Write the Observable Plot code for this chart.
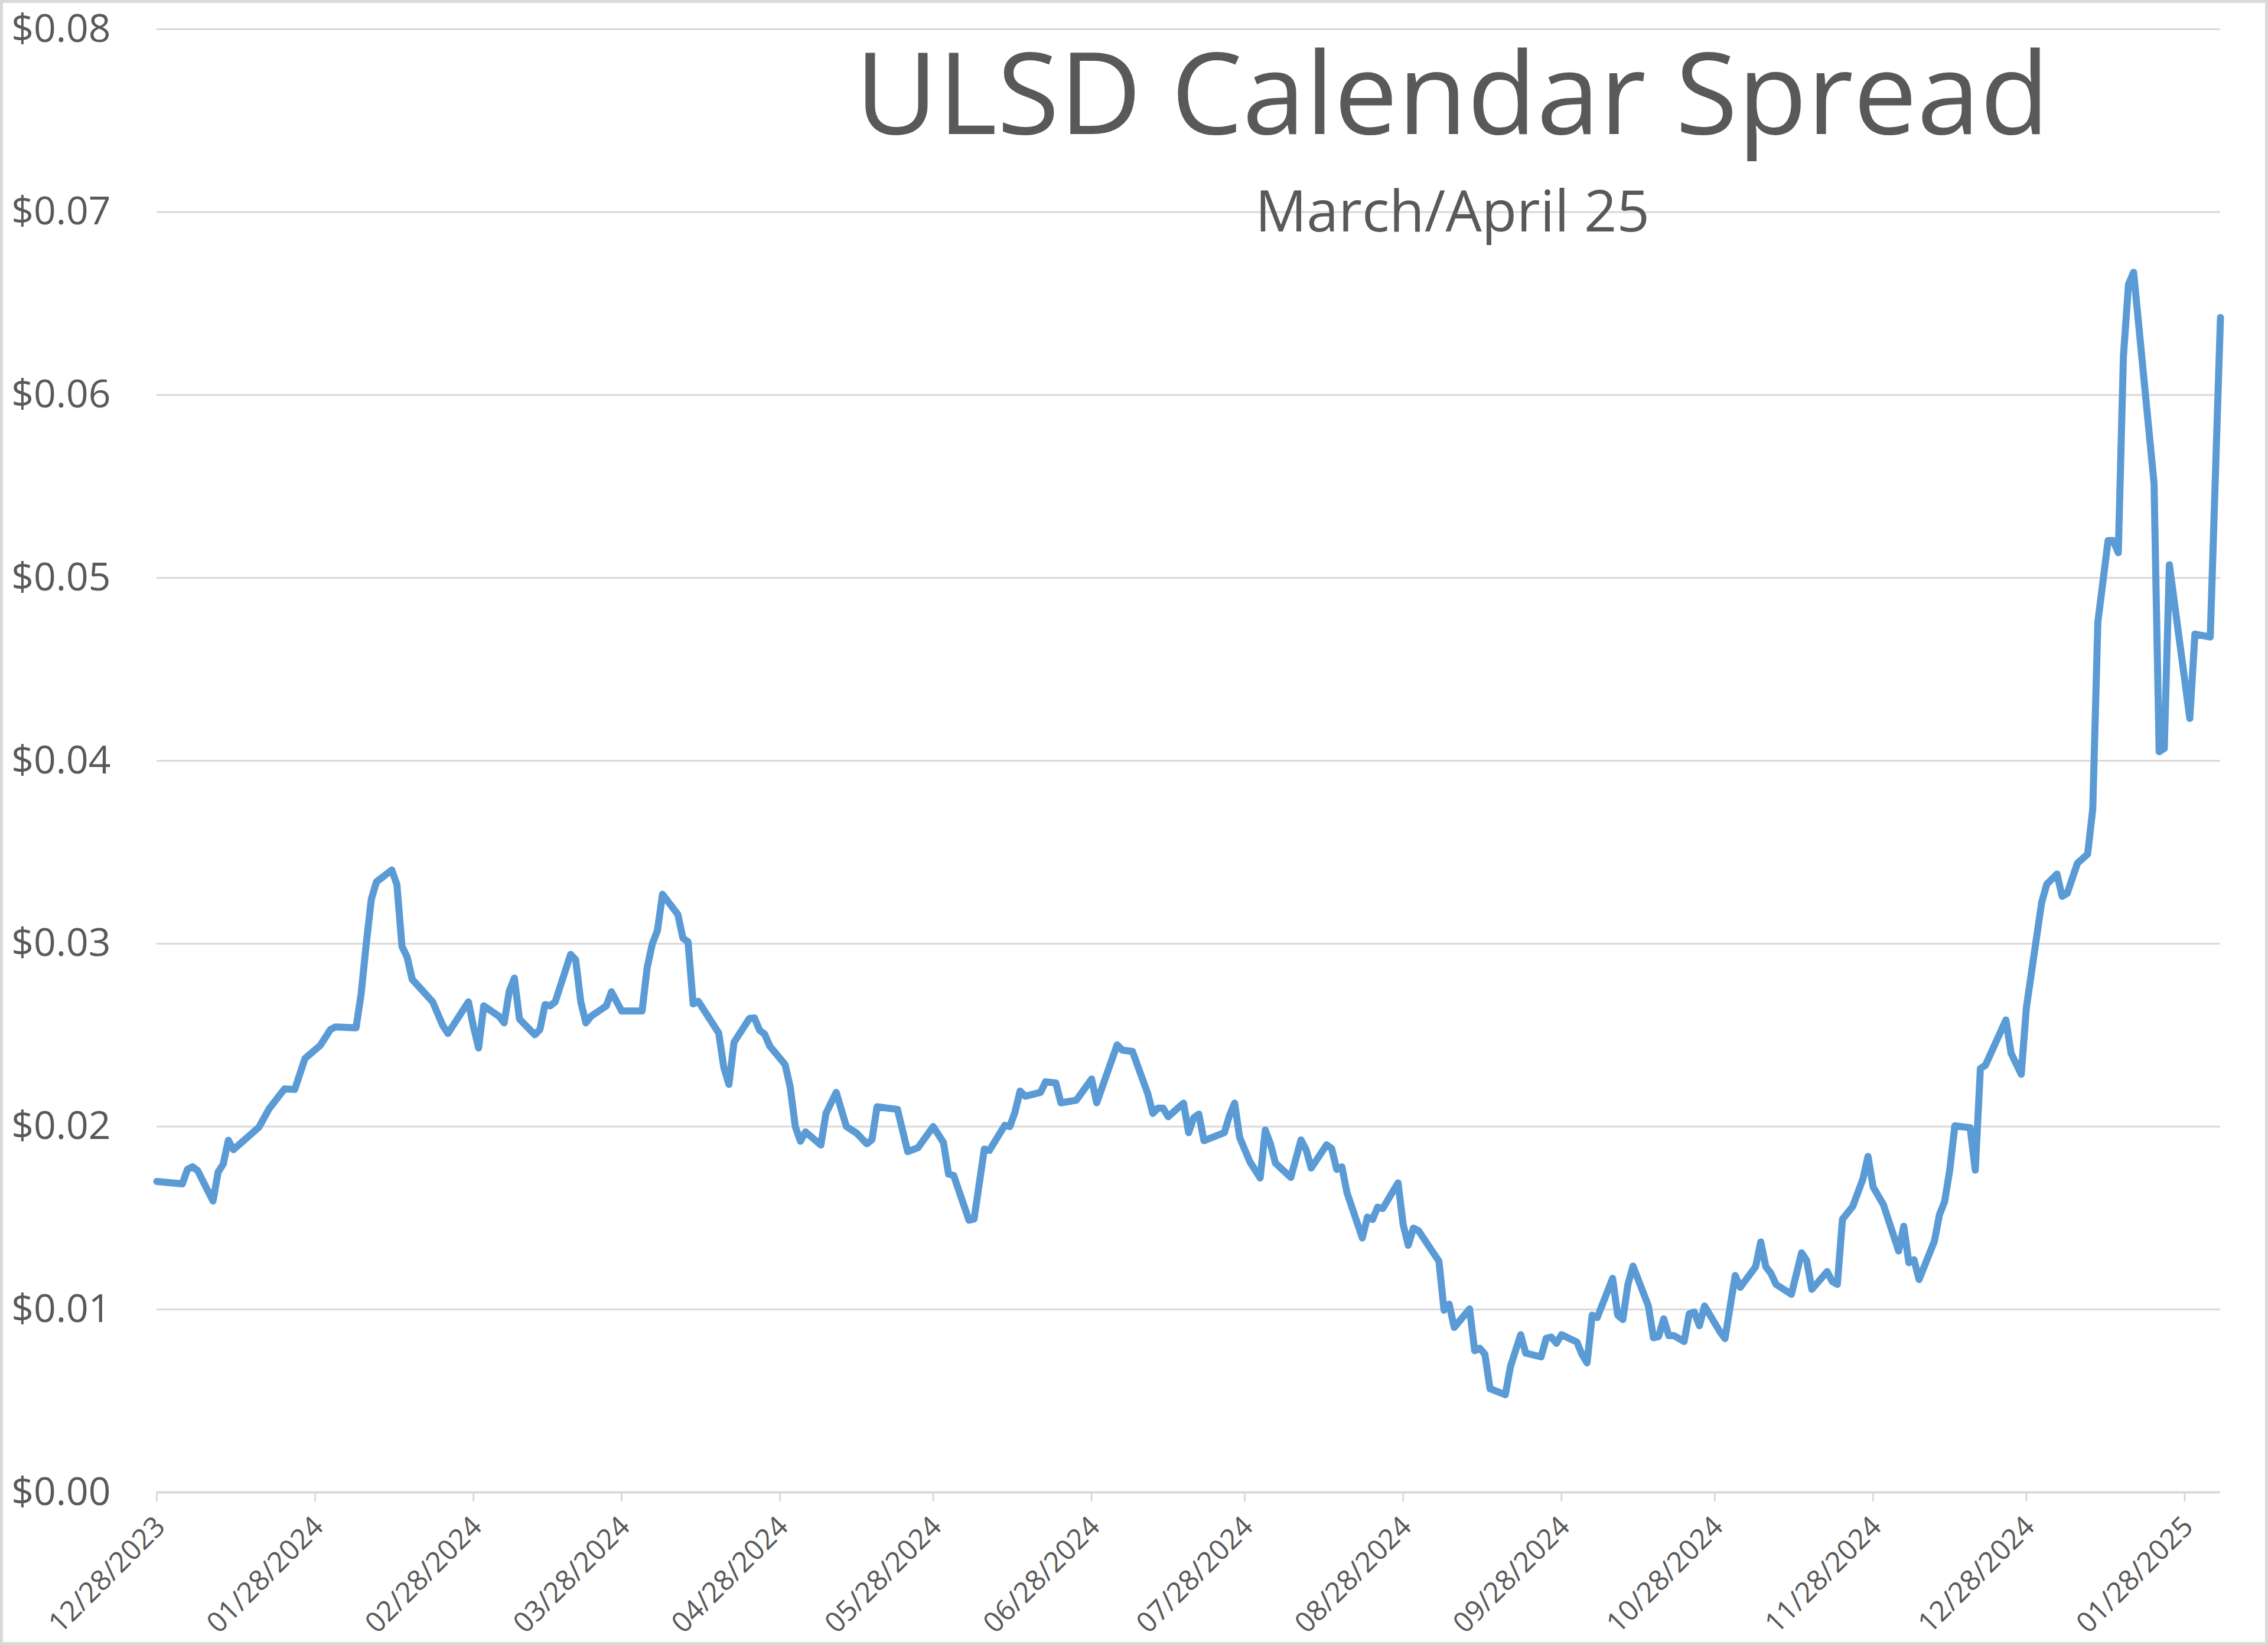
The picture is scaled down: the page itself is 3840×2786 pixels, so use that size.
<!DOCTYPE html>
<html>
<head>
<meta charset="utf-8">
<script src="https://cdn.jsdelivr.net/npm/d3@7"></script>
<script src="https://cdn.jsdelivr.net/npm/@observablehq/plot@0.6"></script>
<style>
  html, body { margin: 0; padding: 0; background: #ffffff; }
  #wrap { position: relative; width: 3840px; height: 2786px; overflow: hidden; background: #ffffff; }
  #frame { position: absolute; left: 0; top: 0; width: 3840px; height: 2786px; box-sizing: border-box; border: 5px solid #d9d9d9; pointer-events: none; }
</style>
</head>
<body>
<div id="wrap"><div id="chart"></div><div id="frame"></div></div>
<script>
// ---- Chart text ----
const titleText = "ULSD Calendar Spread";
const subtitleText = "March/April 25";

// ---- Tick labels ----
const xTickDates = ["2023-12-28","2024-01-28","2024-02-28","2024-03-28","2024-04-28","2024-05-28","2024-06-28",
  "2024-07-28","2024-08-28","2024-09-28","2024-10-28","2024-11-28","2024-12-28","2025-01-28"];
const yTicks = [0, 0.01, 0.02, 0.03, 0.04, 0.05, 0.06, 0.07, 0.08];

// ---- Series: dates (grouped by month) ----
const dates = [
  "2023-12-28",
  "2024-01-02","2024-01-03","2024-01-04","2024-01-05","2024-01-08","2024-01-09","2024-01-10","2024-01-11","2024-01-12","2024-01-17","2024-01-19","2024-01-22","2024-01-24","2024-01-26","2024-01-29","2024-01-31",
  "2024-02-01","2024-02-05","2024-02-06","2024-02-07","2024-02-08","2024-02-09","2024-02-12","2024-02-13","2024-02-14","2024-02-15","2024-02-16","2024-02-20","2024-02-22","2024-02-23","2024-02-27","2024-02-28","2024-02-29",
  "2024-03-01","2024-03-04","2024-03-05","2024-03-06","2024-03-07","2024-03-08","2024-03-11","2024-03-12","2024-03-13","2024-03-14","2024-03-15","2024-03-18","2024-03-19","2024-03-20","2024-03-21","2024-03-22","2024-03-25","2024-03-26","2024-03-28",
  "2024-04-01","2024-04-02","2024-04-03","2024-04-04","2024-04-05","2024-04-08","2024-04-09","2024-04-10","2024-04-11","2024-04-12","2024-04-15","2024-04-16","2024-04-17","2024-04-18","2024-04-19","2024-04-22","2024-04-23","2024-04-24","2024-04-25","2024-04-26","2024-04-29","2024-04-30",
  "2024-05-01","2024-05-02","2024-05-03","2024-05-06","2024-05-07","2024-05-09","2024-05-11","2024-05-13","2024-05-15","2024-05-16","2024-05-17","2024-05-21","2024-05-23","2024-05-25","2024-05-28","2024-05-30","2024-05-31",
  "2024-06-01","2024-06-04","2024-06-05","2024-06-07","2024-06-08","2024-06-11","2024-06-12","2024-06-13","2024-06-14","2024-06-15","2024-06-18","2024-06-19","2024-06-21","2024-06-22","2024-06-25","2024-06-28","2024-06-29",
  "2024-07-03","2024-07-04","2024-07-06","2024-07-09","2024-07-10","2024-07-11","2024-07-12","2024-07-13","2024-07-16","2024-07-17","2024-07-18","2024-07-19","2024-07-20","2024-07-24","2024-07-25","2024-07-26","2024-07-27","2024-07-29","2024-07-31",
  "2024-08-01","2024-08-02","2024-08-03","2024-08-06","2024-08-08","2024-08-09","2024-08-10","2024-08-13","2024-08-14","2024-08-15","2024-08-16","2024-08-17","2024-08-20","2024-08-21","2024-08-22","2024-08-23","2024-08-24","2024-08-27","2024-08-28","2024-08-29","2024-08-30","2024-08-31",
  "2024-09-04","2024-09-05","2024-09-06","2024-09-07","2024-09-10","2024-09-11","2024-09-12","2024-09-13","2024-09-14","2024-09-17","2024-09-18","2024-09-20","2024-09-21","2024-09-24","2024-09-25","2024-09-26","2024-09-27","2024-09-28",
  "2024-10-01","2024-10-02","2024-10-03","2024-10-04","2024-10-05","2024-10-08","2024-10-09","2024-10-10","2024-10-11","2024-10-12","2024-10-15","2024-10-16","2024-10-17","2024-10-18","2024-10-19","2024-10-20","2024-10-22","2024-10-23","2024-10-24","2024-10-25","2024-10-26","2024-10-29","2024-10-30",
  "2024-11-01","2024-11-02","2024-11-05","2024-11-06","2024-11-07","2024-11-08","2024-11-09","2024-11-12","2024-11-14","2024-11-15","2024-11-16","2024-11-19","2024-11-20","2024-11-21","2024-11-22","2024-11-24","2024-11-26","2024-11-27","2024-11-28","2024-11-30",
  "2024-12-03","2024-12-04","2024-12-05","2024-12-06","2024-12-07","2024-12-10","2024-12-11","2024-12-12","2024-12-13","2024-12-14","2024-12-17","2024-12-18","2024-12-19","2024-12-20","2024-12-24","2024-12-25","2024-12-27","2024-12-28","2024-12-31",
  "2025-01-01","2025-01-03","2025-01-04","2025-01-05","2025-01-07","2025-01-09","2025-01-10","2025-01-11","2025-01-13","2025-01-14","2025-01-15","2025-01-16","2025-01-17","2025-01-18","2025-01-22","2025-01-23","2025-01-24","2025-01-25","2025-01-29","2025-01-30",
  "2025-02-02","2025-02-04"
];

// ---- Series: spread values in $ (same grouping) ----
const spread = [
  0.0170,
  0.01687,0.01766,0.0178,0.01759,0.01593,0.01751,0.01795,0.01925,0.01874,0.01997,0.02098,0.02206,0.02203,0.02372,0.02444,0.02531,
  0.02545,0.0254,0.02725,0.02999,0.03244,0.03338,0.03403,0.03324,0.02985,0.02927,0.02805,0.02682,0.02552,0.02509,0.02682,0.02545,0.0243,
  0.0266,0.02603,0.02567,0.0274,0.02812,0.02588,0.02502,0.02531,0.02667,0.0266,0.02682,0.02941,0.02912,0.02682,0.02567,0.02603,0.0266,0.02737,0.02632,
  0.02632,0.02869,0.02999,0.03071,0.0327,0.0316,0.0303,0.0301,0.02671,0.02685,0.02555,0.02512,0.02324,0.02231,0.02461,0.02591,0.02594,0.02527,0.02505,0.0244,0.02339,0.02216,
  0.0200,0.0192,0.01971,0.01899,0.02072,0.02187,0.0200,0.01964,0.01906,0.01928,0.02108,0.02094,0.01863,0.01884,0.0200,0.01913,0.0174,
  0.01733,0.01488,0.01495,0.01877,0.0187,0.02007,0.0200,0.02079,0.02194,0.02166,0.02187,0.02245,0.02238,0.0213,0.02144,0.0226,0.0213,
  0.02447,0.02418,0.02411,0.0218,0.02072,0.02101,0.02101,0.02054,0.02128,0.01967,0.02048,0.02068,0.01923,0.01967,0.02061,0.02128,0.0194,0.01807,0.01719,
  0.01981,0.01907,0.0180,0.01722,0.01927,0.01873,0.01773,0.0190,0.0188,0.01766,0.0178,0.01639,0.01391,0.01505,0.01492,0.01559,0.01552,0.01692,0.01465,0.01351,0.01445,0.01431,
  0.01264,0.00996,0.01029,0.00902,0.01003,0.00775,0.00788,0.00755,0.00567,0.00534,0.00688,0.00862,0.00761,0.00741,0.00842,0.00849,0.00815,0.00862,
  0.00822,0.00755,0.00708,0.00969,0.00956,0.0117,0.00969,0.00945,0.01137,0.01237,0.0102,0.00845,0.00852,0.00949,0.00857,0.00857,0.00825,0.00976,0.00986,0.00911,0.01019,0.00879,0.00841,
  0.01186,0.01121,0.01234,0.01369,0.01234,0.01197,0.01137,0.01083,0.0131,0.01267,0.0111,0.01207,0.01153,0.01137,0.01493,0.01563,0.01713,0.01837,0.0167,0.01574,
  0.0132,0.01455,0.01256,0.01272,0.01164,0.01374,0.01519,0.0159,0.01762,0.02004,0.01994,0.01762,0.02317,0.02336,0.02583,0.02402,0.02286,0.02649,0.03226,
  0.03325,0.03381,0.03259,0.03275,0.0344,0.0349,0.03737,0.04759,0.05204,0.05204,0.05138,0.0621,0.06605,0.06671,0.05517,0.0405,0.04067,0.05072,0.04232,0.04693,
  0.04677,0.06424
];

const data = dates.map((d, i) => ({date: new Date(d), value: spread[i]}));
const xTicks = xTickDates.map(d => new Date(d));

const W = 3840, H = 2786;
const lineColor = "#5b9bd5";
const gridColor = "#d9d9d9";
const textColor = "#595959";

const chart = Plot.plot({
  width: W,
  height: H,
  marginLeft: 265,
  marginRight: 81,
  marginTop: 49,
  marginBottom: 259,
  style: {fontFamily: "'Open Sans', sans-serif", background: "white", overflow: "visible"},
  x: {type: "utc", domain: [new Date("2023-12-28"), new Date("2025-02-04")]},
  y: {domain: [0, 0.08]},
  marks: [
    Plot.gridY(yTicks, {stroke: gridColor, strokeOpacity: 1, strokeWidth: 3}),
    Plot.ruleY([0], {stroke: gridColor, strokeOpacity: 1, strokeWidth: 4}),
    Plot.axisY({
      ticks: yTicks,
      tickFormat: d => "$" + d.toFixed(2),
      tickSize: 0,
      tickPadding: 78,
      fontSize: 66,
      color: textColor,
      label: null
    }),
    // tick marks only
    Plot.axisX({
      ticks: xTicks,
      tickFormat: () => "",
      tickSize: 16,
      stroke: gridColor,
      strokeWidth: 3,
      label: null
    }),
    // rotated date labels only
    Plot.axisX({
      ticks: xTicks,
      tickFormat: d3.utcFormat("%m/%d/%Y"),
      tickRotate: -45,
      tickSize: 0,
      tickPadding: 50,
      dx: 6,
      fontSize: 48,
      color: textColor,
      label: null
    }),
    Plot.line(data, {x: "date", y: "value", stroke: lineColor, strokeWidth: 12, strokeLinejoin: "round", strokeLinecap: "round"})
  ]
});

document.getElementById("chart").appendChild(chart);

// Title and subtitle inside the plot area
const svg = d3.select(chart);
svg.append("text")
  .attr("x", 2459).attr("y", 227)
  .attr("text-anchor", "middle")
  .attr("fill", textColor)
  .style("font-family", "'Open Sans', sans-serif")
  .style("font-size", "192px")
  .text(titleText);
svg.append("text")
  .attr("x", 2459).attr("y", 392)
  .attr("text-anchor", "middle")
  .attr("fill", textColor)
  .style("font-family", "'Open Sans', sans-serif")
  .style("font-size", "97px")
  .text(subtitleText);
</script>
</body>
</html>
